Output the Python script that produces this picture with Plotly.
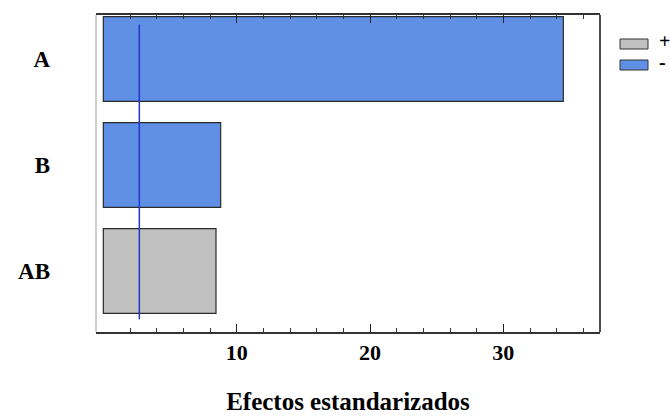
import plotly.graph_objects as go

# Standardized effects (Pareto chart)
factors = ["A", "B", "AB"]
effects = [34.5, 8.8, 8.45]
signs = ["-", "-", "+"]
critical_value = 2.7

tick_values = [10, 20, 30]
minor_values = [v for v in range(2, 38, 2) if v % 10 != 0]

colors = {"+": "#C0C0C0", "-": "#6090E6"}
serif = "Liberation Serif"

fig = go.Figure()
for s in ["+", "-"]:
    ys = [f for f, sg in zip(factors, signs) if sg == s]
    xs = [e for e, sg in zip(effects, signs) if sg == s]
    fig.add_trace(go.Bar(
        x=xs, y=ys, orientation="h", name=s,
        marker=dict(color=colors[s], line=dict(color="#2a2a2a", width=1.2)),
        width=0.8, showlegend=False,
    ))

# critical-value reference line
fig.add_shape(type="line", xref="x", yref="paper",
              x0=critical_value, x1=critical_value, y0=0.04, y1=0.97,
              line=dict(color="#2535C8", width=1.5))

# frame
fig.add_shape(type="line", xref="paper", yref="paper", x0=0, x1=0, y0=0, y1=1,
              line=dict(color="#BDBDBD", width=1.5))
fig.add_shape(type="line", xref="paper", yref="paper", x0=1, x1=1, y0=0, y1=1,
              line=dict(color="#111111", width=1.5))

# legend swatches (plot area: x 96..600 px, y 15..332 px)
def px_x(p):
    return (p - 96) / 504

def px_y(p):
    return (332 - p) / 317

for i, s in enumerate(["+", "-"]):
    top = 39 + i * 21
    fig.add_shape(type="rect", xref="paper", yref="paper",
                  x0=px_x(620), x1=px_x(648), y0=px_y(top + 10), y1=px_y(top),
                  fillcolor=colors[s], line=dict(color="#333333", width=1))
    fig.add_annotation(xref="paper", yref="paper",
                       x=px_x(657), y=px_y(top + 5), yanchor="middle",
                       text=f"<b>{s}</b>", showarrow=False, xanchor="left",
                       yshift=3,
                       font=dict(family=serif, size=20, color="#000000"))

fig.update_layout(
    width=670, height=417,
    margin=dict(l=96, r=70, t=15, b=85),
    paper_bgcolor="white", plot_bgcolor="white",
    xaxis=dict(
        automargin=False,
        range=[-0.55, 37.25],
        tickvals=tick_values, ticktext=[f"<b>{v}</b>" for v in tick_values],
        ticks="inside", ticklen=8, tickcolor="#222", tickwidth=1,
        showline=True, linecolor="#333", linewidth=1.5, mirror="ticks",
        showgrid=False, zeroline=False,
        minor=dict(tickvals=minor_values, ticks="inside", ticklen=4,
                   tickcolor="#333", showgrid=False),
        tickfont=dict(family=serif, size=22, color="#000"),
        title=dict(text="<b>Efectos estandarizados</b>", standoff=28,
                   font=dict(family=serif, size=25, color="#000")),
    ),
    yaxis=dict(
        automargin=False,
        type="category",
        categoryorder="array", categoryarray=factors,
        range=[2.575, -0.415],
        showgrid=False, zeroline=False, showline=False,
        ticks="", ticklabelstandoff=45,
        tickfont=dict(family=serif, size=23, color="#000"),
        tickvals=factors, ticktext=[f"<b>{f}</b>" for f in factors],
    ),
)

fig.write_html("out.html")
